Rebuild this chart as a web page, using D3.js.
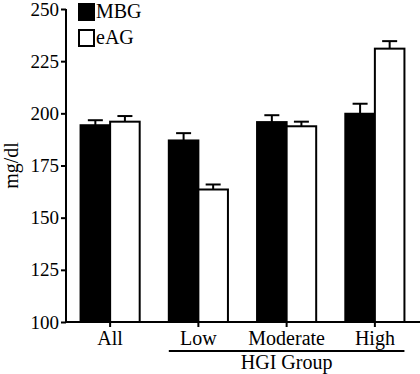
<!DOCTYPE html>
<html>
<head>
<meta charset="utf-8">
<script src="https://cdn.jsdelivr.net/npm/d3@7"></script>
<style>
  body { margin: 0; background: #fff; }
  text { font-family: "Liberation Serif", "Times New Roman", serif; fill: #000; }
</style>
</head>
<body>
<div id="chart"></div>
<script>
// Data
const groups = ["All", "Low", "Moderate", "High"];
const seriesNames = ["MBG", "eAG"];
const mbg = [194.3, 187.0, 195.8, 199.8];
const mbgErr = [2.4, 3.5, 3.3, 4.8];
const eag = [196.0, 163.5, 193.8, 231.0];
const eagErr = [2.7, 2.4, 2.2, 3.6];
const yTicks = [100, 125, 150, 175, 200, 225, 250];
const subGroupLabel = "HGI Group";
const subGroupMembers = ["Low", "Moderate", "High"];

const width = 420, height = 374;
const margin = { top: 9, right: 1, bottom: 52, left: 66 };

const svg = d3.select("#chart").append("svg")
    .attr("width", width)
    .attr("height", height);

const x = d3.scaleBand()
    .domain(groups)
    .range([margin.left, width - margin.right])
    .paddingInner(0.33)
    .paddingOuter(0.165);

const xs = d3.scaleBand()
    .domain(seriesNames)
    .range([0, x.bandwidth()]);

const y = d3.scaleLinear()
    .domain([100, 250])
    .range([height - margin.bottom, margin.top]);

const rows = groups.map((g, i) => [
    { group: g, series: "MBG", value: mbg[i], err: mbgErr[i] },
    { group: g, series: "eAG", value: eag[i], err: eagErr[i] }
]).flat();

const fillFor = s => s === "MBG" ? "#000" : "#fff";

// error bars (drawn first so bars sit on top)
const eb = svg.append("g").attr("stroke", "#000").attr("stroke-width", 2);
rows.forEach(d => {
    const cx = x(d.group) + xs(d.series) + xs.bandwidth() / 2;
    eb.append("line")
      .attr("x1", cx).attr("x2", cx)
      .attr("y1", y(d.value)).attr("y2", y(d.value + d.err));
    eb.append("line")
      .attr("x1", cx - 7.5).attr("x2", cx + 7.5)
      .attr("y1", y(d.value + d.err)).attr("y2", y(d.value + d.err));
});

// bars
svg.append("g")
   .selectAll("rect")
   .data(rows)
   .enter().append("rect")
   .attr("x", d => x(d.group) + xs(d.series))
   .attr("y", d => y(d.value))
   .attr("width", xs.bandwidth())
   .attr("height", d => y(100) - y(d.value))
   .attr("fill", d => fillFor(d.series))
   .attr("stroke", "#000")
   .attr("stroke-width", 2);

// y axis
const yAxis = svg.append("g")
   .attr("transform", "translate(" + margin.left + ",0)")
   .call(d3.axisLeft(y).tickValues(yTicks).tickSize(5).tickPadding(2));
yAxis.select(".domain").attr("stroke-width", 2).attr("d",
    "M0," + y(250) + "V" + y(100));
yAxis.selectAll(".tick line").attr("stroke-width", 2);
yAxis.selectAll(".tick text")
     .style("font-family", "'Liberation Serif', serif")
     .style("font-size", "19px")
     .attr("fill", "#000");

// x axis
const xAxis = svg.append("g")
   .attr("transform", "translate(0," + y(100) + ")")
   .call(d3.axisBottom(x).tickSize(5).tickPadding(4));
xAxis.select(".domain").attr("stroke-width", 2).attr("d",
    "M" + margin.left + ",0H" + width);
xAxis.selectAll(".tick line").attr("stroke-width", 2);
xAxis.selectAll(".tick text")
     .style("font-family", "'Liberation Serif', serif")
     .style("font-size", "20px")
     .attr("fill", "#000");

// HGI group bracket
const first = subGroupMembers[0], last = subGroupMembers[subGroupMembers.length - 1];
const gx0 = x(first), gx1 = x(last) + x.bandwidth();
svg.append("line")
   .attr("x1", gx0).attr("x2", gx1)
   .attr("y1", 351).attr("y2", 351)
   .attr("stroke", "#000").attr("stroke-width", 2);
svg.append("text")
   .attr("x", (gx0 + gx1) / 2)
   .attr("y", 369)
   .attr("text-anchor", "middle")
   .style("font-size", "20px")
   .text(subGroupLabel);

// y label
svg.append("text")
   .attr("transform", "translate(18," + y(175) + ") rotate(-90)")
   .attr("text-anchor", "middle")
   .style("font-size", "20px")
   .text("mg/dl");

// legend
const legend = svg.append("g").attr("transform", "translate(78,3)");
seriesNames.forEach((s, i) => {
    const item = legend.append("g").attr("transform", "translate(0," + i * 26 + ")");
    item.append("rect")
        .attr("x", 1).attr("y", 1)
        .attr("width", 15).attr("height", 16)
        .attr("fill", fillFor(s))
        .attr("stroke", "#000").attr("stroke-width", 2);
    item.append("text")
        .attr("x", 18)
        .attr("y", 15)
        .style("font-size", "20px")
        .text(s);
});
</script>
</body>
</html>
